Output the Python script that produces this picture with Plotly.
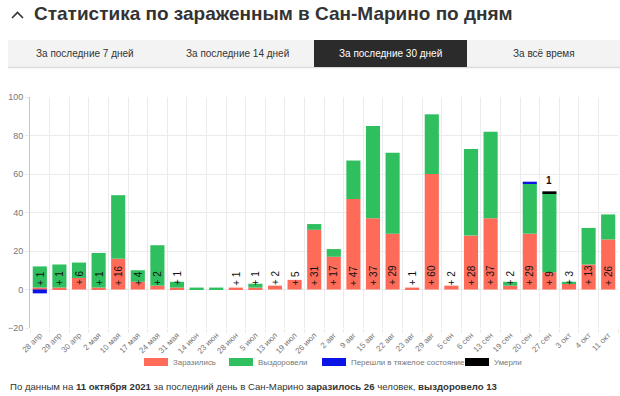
import plotly.graph_objects as go

dates = ["28 апр", "29 апр", "30 апр", "2 мая", "10 мая", "17 мая", "24 мая", "31 мая",
         "14 июн", "23 июн", "28 июн", "5 июл", "13 июл", "19 июл", "26 июл", "2 авг",
         "9 авг", "15 авг", "22 авг", "23 авг", "29 авг", "5 сен", "6 сен", "13 сен",
         "19 сен", "20 сен", "27 сен", "3 окт", "4 окт", "11 окт"]
infected = [1, 1, 6, 1, 16, 4, 2, 1, 0, 0, 1, 1, 2, 5, 31, 17, 47, 37, 29, 1, 60, 2, 28, 37,
            2, 29, 9, 3, 13, 26]
recovered = [11, 12, 8, 18, 33, 6, 21, 3, 1, 1, 0, 2, 0, 0, 3, 4, 20, 48, 42, 0, 31, 0, 45, 45,
             2, 26, 41, 1, 19, 13]
severe = [-2, 0, 0, 0, 0, 0, 0, 0, 0, 0, 0, 0, 0, 0, 0, 0, 0, 0, 0, 0, 0, 0, 0, 0,
          0, 1, 0, 0, 0, 0]
died = [0, 0, 0, 0, 0, 0, 0, 0, 0, 0, 0, 0, 0, 0, 0, 0, 0, 0, 0, 0, 0, 0, 0, 0,
        0, 0, 1, 0, 0, 0]
y_ticks = [-20, 0, 20, 40, 60, 80, 100]
tabs = ["За последние 7 дней", "За последние 14 дней", "За последние 30 дней", "За всё время"]
legend_names = ["Заразились", "Выздоровели", "Перешли в тяжелое состояние", "Умерли"]

RED = "#ff6b59"
GREEN = "#2fbf5f"
BLUE = "#0a14e6"
BLACK = "#000000"
FONT = "Liberation Sans"

W, H = 620, 396
L, R, T, B = 30, 2, 97, 68
PW = W - L - R
PH = H - T - B


def px(x):
    return (x - L) / PW


def py(y):
    return (H - B - y) / PH


fig = go.Figure()
fig.add_bar(x=dates, y=infected, name=legend_names[0], marker_color=RED, marker_line_width=0)
fig.add_bar(x=dates, y=recovered, name=legend_names[1], marker_color=GREEN, marker_line_width=0)
fig.add_bar(x=dates, y=severe, name=legend_names[2], marker_color=BLUE, marker_line_width=0)
fig.add_bar(x=dates, y=died, name=legend_names[3], marker_color=BLACK, marker_line_width=0)

annotations = []
# value labels
for d, v in zip(dates, infected):
    if v > 0:
        annotations.append(dict(x=d, y=0, xref="x", yref="y", text="+ %d" % v,
                                textangle=-90, showarrow=False, yanchor="bottom",
                                xanchor="center", yshift=2,
                                font=dict(family=FONT, size=10, color="#111")))
for d, inf, rec, sev, dd in zip(dates, infected, recovered, severe, died):
    if dd > 0:
        annotations.append(dict(x=d, y=inf + rec + max(sev, 0) + dd, xref="x", yref="y",
                                text="<b>%d</b>" % dd, showarrow=False, yanchor="bottom",
                                xanchor="center", yshift=3,
                                font=dict(family=FONT, size=10, color="#111")))

shapes = []
# title chevron
shapes.append(dict(type="path", xref="paper", yref="paper",
                   path="M %f %f L %f %f L %f %f" % (px(12), py(18), px(17.5), py(12.5), px(23), py(18)),
                   line=dict(color="#333", width=1.6)))
annotations.append(dict(x=px(32), y=py(13), xref="paper", yref="paper", xanchor="left",
                        yanchor="middle", showarrow=False,
                        text="<b>Статистика по зараженным в Сан-Марино по дням</b>",
                        font=dict(family=FONT, size=19, color="#333")))
# tabs
shapes.append(dict(type="rect", xref="paper", yref="paper", x0=px(8), x1=px(620),
                   y0=py(67), y1=py(40), fillcolor="#f3f3f3", line_width=0, layer="below"))
shapes.append(dict(type="line", xref="paper", yref="paper", x0=px(8), x1=px(620),
                   y0=py(67.5), y1=py(67.5), line=dict(color="#dcdcdc", width=1.5)))
tab_w = 153
for i, t in enumerate(tabs):
    x0 = 8 + i * tab_w
    active = (i == 2)
    if active:
        shapes.append(dict(type="rect", xref="paper", yref="paper", x0=px(x0), x1=px(x0 + tab_w),
                           y0=py(67), y1=py(40), fillcolor="#2b2b2b", line_width=0))
    annotations.append(dict(x=px(x0 + tab_w / 2), y=py(53.5), xref="paper", yref="paper",
                            xanchor="center", yanchor="middle",
                            showarrow=False, text=t,
                            font=dict(family=FONT, size=10, color="#fff" if active else "#333")))
# legend
leg = [(144, RED, legend_names[0]), (229, GREEN, legend_names[1]),
       (322, BLUE, legend_names[2]), (465, BLACK, legend_names[3])]
for x0, c, name in leg:
    shapes.append(dict(type="rect", xref="paper", yref="paper", x0=px(x0), x1=px(x0 + 24),
                       y0=py(366), y1=py(358), fillcolor=c, line_width=0))
    annotations.append(dict(x=px(x0 + 27), y=py(362), xref="paper", yref="paper",
                            xanchor="left", yanchor="middle", showarrow=False, text=name,
                            font=dict(family=FONT, size=7.9, color="#777")))
# footer
annotations.append(dict(x=px(8), y=py(386), xref="paper", yref="paper", xanchor="left",
                        yanchor="middle", showarrow=False,
                        text="По данным на <b>11 октября 2021</b> за последний день в Сан-Марино "
                             "<b>заразилось 26</b> человек, <b>выздоровело 13</b>",
                        font=dict(family=FONT, size=9.6, color="#333")))

fig.update_layout(
    width=W, height=H,
    margin=dict(l=L, r=R, t=T, b=B, autoexpand=False),
    barmode="relative",
    bargap=0.28,
    showlegend=False,
    plot_bgcolor="white",
    paper_bgcolor="white",
    font=dict(family=FONT),
    shapes=shapes,
    annotations=annotations,
)
fig.update_xaxes(tickangle=-45, tickson="boundaries", showgrid=True, gridcolor="#ebebeb",
                 ticks="outside", ticklen=4, tickcolor="#ebebeb",
                 tickfont=dict(family=FONT, size=8, color="#777"), showline=False,
                 zeroline=False, fixedrange=True, automargin=False)
fig.update_yaxes(range=[-20, 100], tickvals=y_ticks, showgrid=True, gridcolor="#ebebeb",
                 zeroline=False, showline=True, linecolor="#c8c8c8", linewidth=1,
                 ticks="outside", ticklen=4, tickcolor="#ebebeb",
                 tickfont=dict(family=FONT, size=9, color="#777"), fixedrange=True,
                 automargin=False)

fig.write_html("out.html", config={"displayModeBar": False},
               post_script="document.body.style.margin='0';document.body.style.padding='0';")
